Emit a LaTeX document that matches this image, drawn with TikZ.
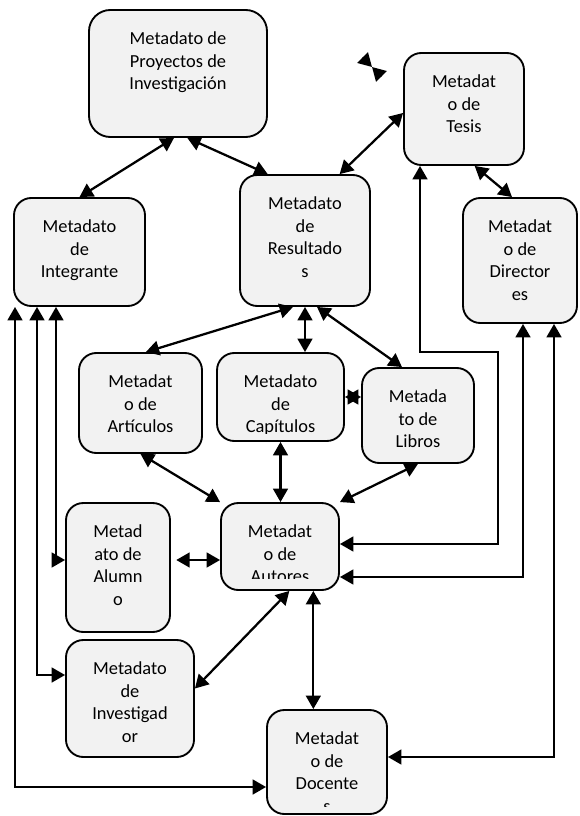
\documentclass[tikz,border=0pt]{standalone}
\usepackage{fontspec}
\setmainfont{Carlito}
\usetikzlibrary{arrows.meta,positioning,fit}
\definecolor{relleno}{HTML}{F2F2F2}
\tikzset{
	caja/.style={draw, line width=1.4pt, rounded corners=13pt, fill=relleno, inner sep=0pt},
	texto/.style={below=17pt, align=center, inner sep=0pt, font=\fontsize{13.8}{16.9}\selectfont},
	ambas/.style={line width=1.7pt, {Triangle[length=10pt,width=11pt]}-{Triangle[length=10pt,width=11pt]}},
	punta/.style={line width=1.7pt, -{Triangle[length=10pt,width=11pt]}},
}
\begin{document}
\begin{tikzpicture}[x=0.75pt,y=-0.75pt]
	\useasboundingbox (0,0) rectangle (580,816);
	% cajas
	\node[caja, rounded corners=16pt, fit={(89,10) (267,137)}] (proy) {};
	\node[caja, fit={(404,53) (524,165)}] (tesis) {};
	\node[caja, fit={(14,198) (145,306)}] (integ) {};
	\node[caja, fit={(240,175) (370,306)}] (resul) {};
	\node[caja, fit={(463,198) (577,323)}] (direc) {};
	\node[caja, fit={(79,353) (202,453)}] (artic) {};
	\node[caja, fit={(217,353) (344,441)}] (capit) {};
	\node[caja, fit={(362,368) (474,463)}] (libros) {};
	\node[caja, fit={(66,503) (170,632)}] (alumno) {};
	\node[caja, fit={(221,503) (339,590)}] (autores) {};
	\node[caja, fit={(66,640) (194,757)}] (invest) {};
	\node[caja, fit={(267,710) (387,814)}] (docen) {};
	% textos
	\node[texto] (proyT) at (proy.north) {Metadato de\\Proyectos de\\Investigación};
	\node[texto] (tesisT) at (tesis.north) {Metadat\\o de\\Tesis};
	\node[texto] (integT) at (integ.north) {Metadato\\de\\Integrante};
	\node[texto] (resulT) at (resul.north) {Metadato\\de\\Resultado\\s};
	\node[texto] (direcT) at (direc.north) {Metadat\\o de\\Director\\es};
	\node[texto] (articT) at (artic.north) {Metadat\\o de\\Artículos};
	\begin{scope}
		\clip (capit.north west) rectangle ([yshift=6.5pt]capit.south east);
		\node[texto] (capitT) at (capit.north) {Metadato\\de\\Capítulos};
	\end{scope}
	\node[texto] (librosT) at (libros.north) {Metada\\to de\\Libros};
	\node[texto] (alumnoT) at (alumno.north) {Metad\\ato de\\Alumn\\o};
	\begin{scope}
		\clip (autores.north west) rectangle ([yshift=9pt]autores.south east);
		\node[texto] (autoresT) at (autores.north) {Metadat\\o de\\Autores};
	\end{scope}
	\node[texto] (investT) at (invest.north) {Metadato\\de\\Investigad\\or};
	\begin{scope}
		\clip (docen.north west) rectangle ([yshift=6pt]docen.south east);
		\node[texto] (docenT) at (docen.north) {Metadat\\o de\\Docente\\s};
	\end{scope}
	% puntos de paso
	\coordinate (t1) at (420,352);
	\coordinate (t2) at (498,544);
	\coordinate (d1) at (523,577);
	\coordinate (d2) at (554,757);
	\coordinate (i1) at (15,787);
	\coordinate (i2) at (37,675);
	\coordinate (i3) at (56,560);
	\coordinate (s0) at (372,67);
	\coordinate (s1) at (362.6,57.6);
	\coordinate (s2) at (381.4,76.4);
	% flechas
	\draw[ambas] (integ.north) -- ([xshift=-3pt]proy.south);
	\draw[ambas] ([xshift=7pt]proy.south) -- ([xshift=-28pt]resul.north);
	\draw[ambas] ([xshift=26pt]resul.north) -- ([yshift=-3pt]tesis.west);
	\draw[ambas] ([xshift=8pt]tesis.south) -- ([xshift=-6pt]direc.north);
	\draw[punta] (s1) -- (s0);
	\draw[punta] (s2) -- (s0);
	\draw[ambas] ([xshift=-9pt]resul.south) -- ([xshift=4pt]artic.north);
	\draw[ambas] (resul.south) -- (resul.south |- capit.north);
	\draw[ambas] ([xshift=9pt]resul.south) -- ([xshift=-12pt]libros.north);
	\draw[ambas] (capit.east) -- (capit.east -| libros.west);
	\draw[ambas] (artic.south) -- (autores.north west);
	\draw[ambas] (capit.south) -- (capit.south |- autores.north);
	\draw[ambas] (libros.south) -- (autores.north east);
	\draw[ambas] ([xshift=4pt]i3 -| alumno.east) -- (i3 -| autores.west);
	\draw[ambas] ([xshift=7pt]autores.south) -- ([yshift=7.5pt]invest.east);
	\draw[ambas] ([xshift=25pt]autores.south) -- ([xshift=25pt]autores.south |- docen.north);
	\draw[ambas] (tesis.south -| t1) -- (t1) -- (t1 -| t2) -- (t2) -- (t2 -| autores.east);
	\draw[ambas] (direc.south -| d1) -- (d1) -- (d1 -| autores.east);
	\draw[ambas] (direc.south -| d2) -- (d2) -- (d2 -| docen.east);
	\draw[ambas] (integ.south -| i1) -- (i1) -- (i1 -| docen.west);
	\draw[ambas] (integ.south -| i2) -- (i2) -- (i2 -| invest.west);
	\draw[ambas] (integ.south -| i3) -- (i3) -- (i3 -| alumno.west);
\end{tikzpicture}
\end{document}
